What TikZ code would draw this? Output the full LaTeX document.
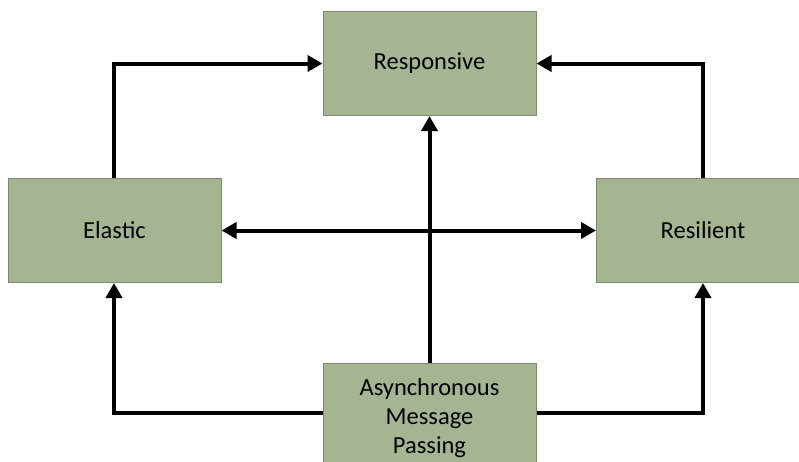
\documentclass[tikz,border=0pt]{standalone}
\usepackage{fontspec}
\setmainfont{Carlito}
\usetikzlibrary{arrows.meta}
\definecolor{boxfill}{HTML}{A5B592}
\definecolor{boxline}{HTML}{7D8A6E}
\begin{document}
\begin{tikzpicture}[x=1pt,y=-1pt,
  box/.style={draw=boxline,line width=1pt,fill=boxfill,minimum width=213pt,minimum height=104pt,inner sep=0pt,font=\fontsize{24.5}{29}\selectfont,align=center,anchor=north west},
  conn/.style={line width=4pt,-{Triangle[length=15pt,width=16pt]}},
  conn2/.style={line width=4pt,{Triangle[length=15pt,width=16pt]}-{Triangle[length=15pt,width=16pt]}}]
\useasboundingbox (0,0) rectangle (799,461);
\begin{scope}
\clip (0,0) rectangle (799,461);
\node[box] (resp) at (322.5,11) {Responsive};
\node[box] (elas) at (7.5,178) {Elastic};
\node[box] (resi) at (596,178) {Resilient};
\node[box,text depth=0pt] (async) at (322.5,363) {Asynchronous\\Message\\Passing};
\end{scope}
\coordinate (c3) at (114,413);
\coordinate (c4) at (703,413);
\draw[conn] ([xshift=-0.5pt]elas.north) |- (resp.west);
\draw[conn] (resi.north) |- (resp.east);
\draw[conn] (async.north) -- (resp.south);
\draw[conn2] (elas.east) -- (resi.west);
\draw[conn] (async.west |- c3) -| ([xshift=-0.5pt]elas.south);
\draw[conn] (async.east |- c4) -| (resi.south);
\end{tikzpicture}
\end{document}
